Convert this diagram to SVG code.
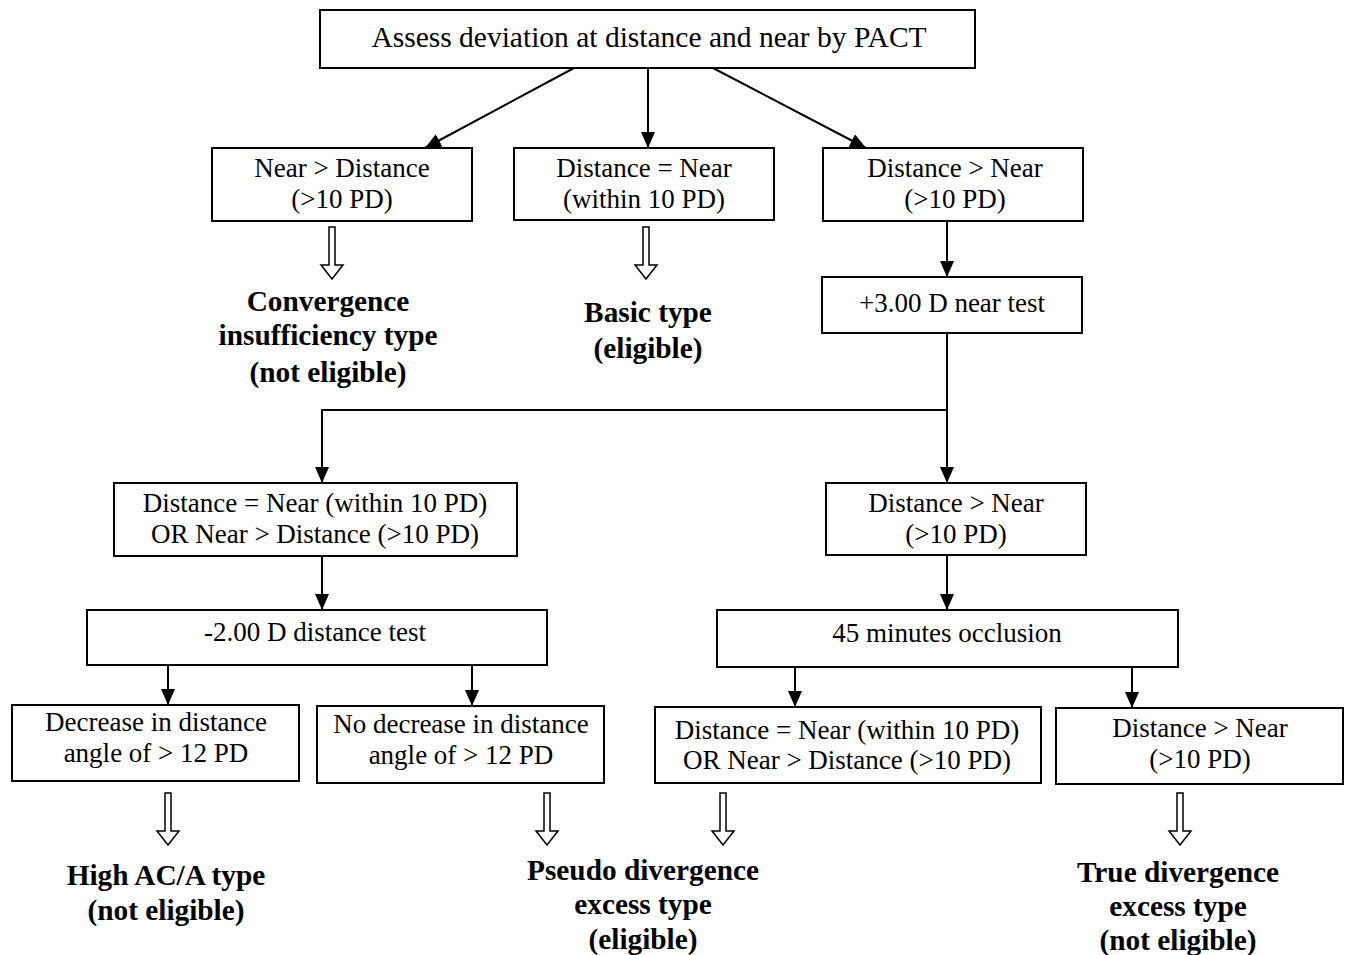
<svg xmlns="http://www.w3.org/2000/svg" xmlns:xlink="http://www.w3.org/1999/xlink" width="1351" height="955" viewBox="0 0 1351 955">
<style>
.box{fill:#fff;stroke:#000;stroke-width:2}
.t{font-family:"Liberation Serif","Times New Roman",serif;font-size:27px;fill:#000;text-anchor:middle}
.b{font-family:"Liberation Serif","Times New Roman",serif;font-size:29.3px;font-weight:bold;fill:#000;text-anchor:middle}
.c{stroke:#000;stroke-width:2;fill:none}
.ca{stroke:#000;stroke-width:2;fill:none;marker-end:url(#ah)}
.h{fill:#fff;stroke:#000;stroke-width:1.5}
</style>
<defs>
<marker id="ah" markerUnits="userSpaceOnUse" markerWidth="16" markerHeight="14" refX="16" refY="7" orient="auto">
<path d="M0,0 L16,7 L0,14 z" fill="#000"/>
</marker>
<polygon id="hollow" points="-3,0 3,0 3,38 11,38 0,52 -11,38 -3,38"/>
</defs>
<rect width="1351" height="955" fill="#fff"/>

<g id="connectors">
<line class="ca" x1="574" y1="68" x2="425" y2="148"/>
<line class="ca" x1="648" y1="68" x2="648" y2="148"/>
<line class="ca" x1="713" y1="68" x2="866" y2="148"/>
<line class="ca" x1="947" y1="221" x2="947" y2="277"/>
<line class="ca" x1="947" y1="333" x2="947" y2="483"/>
<polyline class="ca" points="947,410 322,410 322,483"/>
<line class="ca" x1="322" y1="556" x2="322" y2="610"/>
<line class="ca" x1="947" y1="555" x2="947" y2="610"/>
<line class="ca" x1="168" y1="665" x2="168" y2="705"/>
<line class="ca" x1="472" y1="665" x2="472" y2="706"/>
<line class="ca" x1="795" y1="667" x2="795" y2="707"/>
<line class="ca" x1="1132" y1="667" x2="1132" y2="708"/>
<use xlink:href="#hollow" class="h" x="332" y="227"/>
<use xlink:href="#hollow" class="h" x="646" y="227"/>
<use xlink:href="#hollow" class="h" x="168" y="793"/>
<use xlink:href="#hollow" class="h" x="547" y="793"/>
<use xlink:href="#hollow" class="h" x="723" y="793"/>
<use xlink:href="#hollow" class="h" x="1180" y="793"/>
</g>

<g id="n-top">
<rect class="box" x="320" y="10" width="655" height="58"/>
<text class="t" x="649" y="47" style="font-size:29.5px">Assess deviation at distance and near by PACT</text>
</g>
<g id="n-near-gt-dist">
<rect class="box" x="212" y="148" width="260" height="73"/>
<text class="t" x="342" y="177">Near &gt; Distance</text>
<text class="t" x="342" y="208">(&gt;10 PD)</text>
</g>
<g id="n-dist-eq-near">
<rect class="box" x="514" y="148" width="260" height="72"/>
<text class="t" x="644" y="177">Distance = Near</text>
<text class="t" x="644" y="208">(within 10 PD)</text>
</g>
<g id="n-dist-gt-near">
<rect class="box" x="823" y="148" width="260" height="73"/>
<text class="t" x="955" y="177">Distance &gt; Near</text>
<text class="t" x="955" y="208">(&gt;10 PD)</text>
</g>
<g id="r-ci">
<text class="b" x="328" y="311">Convergence</text>
<text class="b" x="328" y="345">insufficiency type</text>
<text class="b" x="328" y="382">(not eligible)</text>
</g>
<g id="r-basic">
<text class="b" x="648" y="322">Basic type</text>
<text class="b" x="648" y="358">(eligible)</text>
</g>
<g id="n-near-test">
<rect class="box" x="822" y="277" width="260" height="56"/>
<text class="t" x="952" y="312">+3.00 D near test</text>
</g>
<g id="n-left2">
<rect class="box" x="114" y="483" width="403" height="73"/>
<text class="t" x="315" y="512">Distance = Near (within 10 PD)</text>
<text class="t" x="315" y="543">OR Near &gt; Distance (&gt;10 PD)</text>
</g>
<g id="n-right2">
<rect class="box" x="826" y="483" width="260" height="72"/>
<text class="t" x="956" y="512">Distance &gt; Near</text>
<text class="t" x="956" y="543">(&gt;10 PD)</text>
</g>
<g id="n-dist-test">
<rect class="box" x="87" y="610" width="460" height="55"/>
<text class="t" x="315" y="641">-2.00 D distance test</text>
</g>
<g id="n-occlusion">
<rect class="box" x="717" y="610" width="461" height="57"/>
<text class="t" x="947" y="642">45 minutes occlusion</text>
</g>
<g id="n-decrease">
<rect class="box" x="12" y="705" width="287" height="76"/>
<text class="t" x="156" y="731">Decrease in distance</text>
<text class="t" x="156" y="762">angle of &gt; 12 PD</text>
</g>
<g id="n-nodecrease">
<rect class="box" x="317" y="706" width="287" height="77"/>
<text class="t" x="461" y="733">No decrease in distance</text>
<text class="t" x="461" y="764">angle of &gt; 12 PD</text>
</g>
<g id="n-left3">
<rect class="box" x="655" y="707" width="386" height="76"/>
<text class="t" x="847" y="739">Distance = Near (within 10 PD)</text>
<text class="t" x="847" y="769">OR Near &gt; Distance (&gt;10 PD)</text>
</g>
<g id="n-right3">
<rect class="box" x="1056" y="708" width="287" height="76"/>
<text class="t" x="1200" y="737">Distance &gt; Near</text>
<text class="t" x="1200" y="768">(&gt;10 PD)</text>
</g>
<g id="r-high">
<text class="b" x="166" y="885">High AC/A type</text>
<text class="b" x="166" y="920">(not eligible)</text>
</g>
<g id="r-pseudo">
<text class="b" x="643" y="880">Pseudo divergence</text>
<text class="b" x="643" y="914">excess type</text>
<text class="b" x="643" y="949">(eligible)</text>
</g>
<g id="r-true">
<text class="b" x="1178" y="882">True divergence</text>
<text class="b" x="1178" y="916">excess type</text>
<text class="b" x="1178" y="950">(not eligible)</text>
</g>
</svg>
